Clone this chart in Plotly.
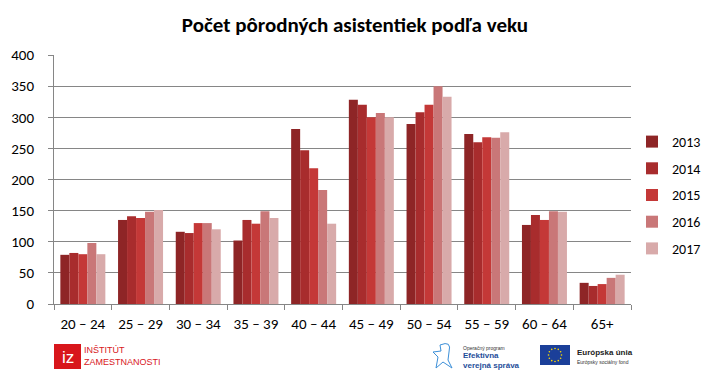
import math
import plotly.graph_objects as go

categories = ["20 – 24", "25 – 29", "30 – 34", "35 – 39", "40 – 44",
              "45 – 49", "50 – 54", "55 – 59", "60 – 64", "65+"]
years = ["2013", "2014", "2015", "2016", "2017"]
v2013 = [79, 135, 116, 102, 281, 328, 289, 273, 127, 34]
v2014 = [82, 141, 114, 135, 247, 320, 308, 260, 143, 29]
v2015 = [80, 138, 130, 129, 218, 300, 320, 268, 135, 32]
v2016 = [98, 148, 130, 149, 183, 307, 350, 267, 149, 42]
v2017 = [80, 151, 120, 138, 129, 300, 333, 276, 148, 47]
series = [v2013, v2014, v2015, v2016, v2017]
colors = ["#8E2526", "#A82C2D", "#C43837", "#C97778", "#D8AAAA"]

FONT = "Carlito, Calibri, Lato, 'Liberation Sans', sans-serif"

fig = go.Figure()
for name, vals, col in zip(years, series, colors):
    fig.add_trace(go.Bar(x=categories, y=vals, name=name, marker_color=col,
                         marker_line_width=0, legendgroup=name))

# page has an 8px body margin; target plot area in page pixels: x 54..631, y 55..304
OFF = 8
W, H = 711, 389 - OFF
L, R, T, B = 54, 631, 55, 304
def px(x):
    return (x - L) / (R - L)
def py(y):
    return (B - y) / (B - T)

ann = []
shapes = []
# Institut zamestnanosti logo
shapes.append(dict(type="rect", xref="paper", yref="paper",
                   x0=px(54), x1=px(81), y0=py(369), y1=py(344),
                   fillcolor="#D8161B", line_width=0))
ann.append(dict(text="iz", x=px(67.5), y=py(357), xref="paper", yref="paper",
                showarrow=False, font=dict(color="white", size=17, family="Arial"),
                xanchor="center", yanchor="middle"))
ann.append(dict(text="INŠTITÚT<br>ZAMESTNANOSTI", x=px(82), y=py(356),
                xref="paper", yref="paper", showarrow=False, align="left",
                font=dict(color="#D8161B", size=9, family="Arial"),
                xanchor="left", yanchor="middle"))
# OP Efektivna verejna sprava logo
shapes.append(dict(type="path", xref="paper", yref="paper",
                   path=f"M {px(440)},{py(345)} Q {px(452)},{py(340)} {px(449)},{py(352)} "
                        f"L {px(448)},{py(360)} L {px(452)},{py(368)} "
                        f"L {px(443)},{py(362)} L {px(436)},{py(368)} L {px(438)},{py(357)} "
                        f"L {px(433)},{py(352)} L {px(441)},{py(351)} Z",
                   line=dict(color="#3C8FD8", width=1), fillcolor="rgba(0,0,0,0)"))
ann.append(dict(text="Operačný program", x=px(461), y=py(348), xref="paper", yref="paper",
                showarrow=False, font=dict(color="#333", size=5, family="Arial"),
                xanchor="left", yanchor="middle"))
ann.append(dict(text="<b>Efektívna<br>verejná správa</b>", x=px(461), y=py(360),
                xref="paper", yref="paper", showarrow=False, align="left",
                font=dict(color="#1F4E9A", size=8, family="Arial"),
                xanchor="left", yanchor="middle"))
# EU flag
shapes.append(dict(type="rect", xref="paper", yref="paper",
                   x0=px(540), x1=px(570), y0=py(365), y1=py(345),
                   fillcolor="#1B3F99", line_width=0))
for k in range(12):
    a = 2 * math.pi * k / 12
    cx, cy = 555 + 6.5 * math.cos(a), 355 + 6.5 * math.sin(a)
    shapes.append(dict(type="circle", xref="paper", yref="paper",
                       x0=px(cx - 0.8), x1=px(cx + 0.8), y0=py(cy + 0.8), y1=py(cy - 0.8),
                       fillcolor="#FFDD00", line_width=0))
ann.append(dict(text="<b>Európska únia</b>", x=px(575), y=py(352), xref="paper", yref="paper",
                showarrow=False, font=dict(color="#222", size=8, family="Arial"),
                xanchor="left", yanchor="middle"))
ann.append(dict(text="Európsky sociálny fond", x=px(575), y=py(362), xref="paper", yref="paper",
                showarrow=False, font=dict(color="#333", size=5, family="Arial"),
                xanchor="left", yanchor="middle"))

fig.update_layout(
    width=W, height=H,
    margin=dict(l=L - OFF, r=W - (R - OFF), t=T - OFF, b=389 - B, autoexpand=False),
    paper_bgcolor="white", plot_bgcolor="white",
    barmode="group", bargap=0.22, bargroupgap=0,
    font=dict(family=FONT, size=15, color="#000"),
    title=dict(text="<b>Počet pôrodných asistentiek podľa veku</b>",
               x=(355 - OFF) / W, xanchor="center", y=1 - (25 - OFF) / H, yanchor="middle",
               font=dict(size=21, family=FONT, color="#000")),
    legend=dict(x=px(632), y=py(126), xanchor="left", yanchor="top",
                font=dict(size=14, family=FONT), tracegroupgap=5.5,
                itemwidth=30, bgcolor="rgba(0,0,0,0)"),
    annotations=ann, shapes=shapes,
)
fig.update_yaxes(range=[0, 400], dtick=50, showgrid=True, gridcolor="#868686",
                 gridwidth=1, showline=True, linecolor="#868686", linewidth=1,
                 ticks="outside", ticklen=5, tickcolor="#868686",
                 ticklabelstandoff=11, tickfont=dict(size=15), zeroline=False)
fig.update_xaxes(showline=True, linecolor="#868686", linewidth=1,
                 ticks="outside", ticklen=5, tickcolor="#868686",
                 tickson="boundaries", ticklabelstandoff=6, tickfont=dict(size=15))

fig.write_html("out.html")
